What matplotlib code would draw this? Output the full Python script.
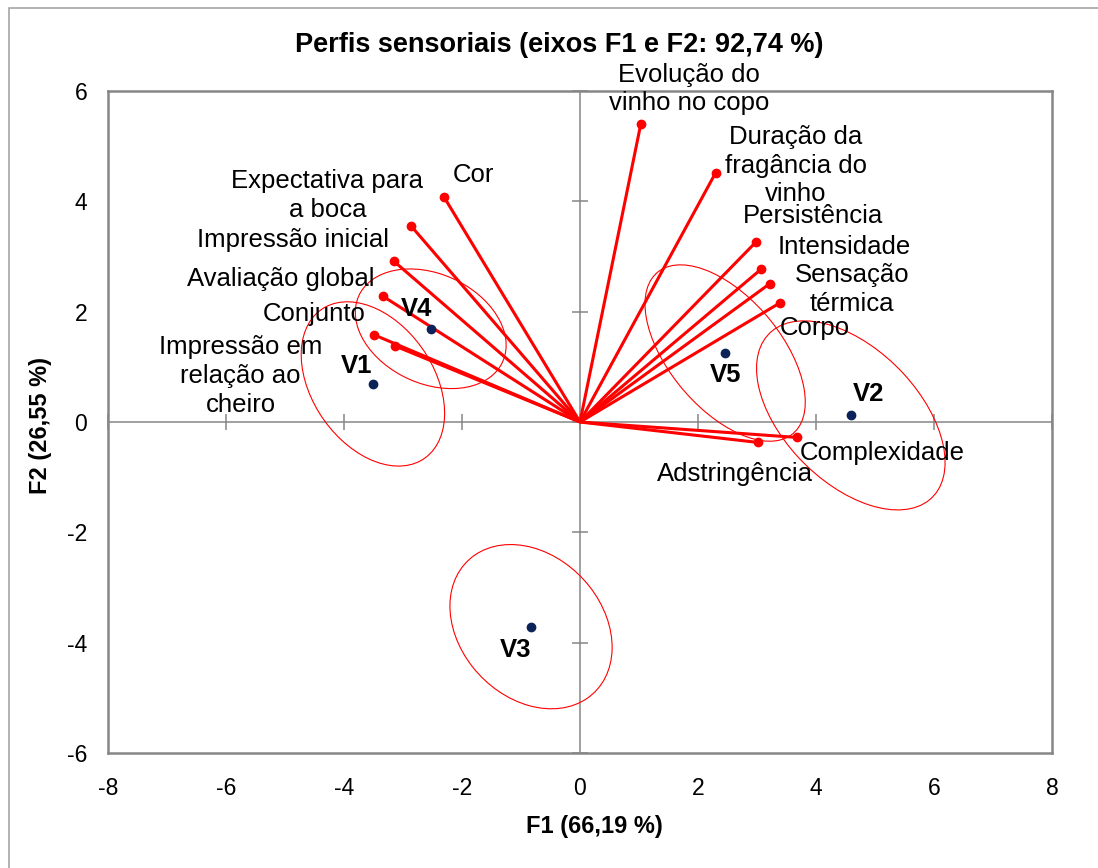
from matplotlib import pyplot as plt
import matplotlib.patches as patches
import numpy as np

# variables (red vectors)
VAR_NAMES = ['Cor', 'Expectativa para\na boca', 'Impressão inicial', 'Avaliação global',
             'Conjunto', 'Impressão em\nrelação ao\ncheiro',
             'Evolução do\nvinho no copo', 'Duração da\nfragância do\nvinho', 'Persistência',
             'Intensidade', 'Sensação\ntérmica', 'Corpo', 'Complexidade', 'Adstringência']
VAR_F1 = [-2.30, -2.86, -3.15, -3.34, -3.49, -3.14, 1.03, 2.30, 2.98, 3.07, 3.22, 3.39, 3.68, 3.01]
VAR_F2 = [4.07, 3.55, 2.91, 2.28, 1.58, 1.38, 5.40, 4.52, 3.26, 2.77, 2.51, 2.16, -0.28, -0.37]

# observations (wines)
OBS_NAMES = ['V1', 'V2', 'V3', 'V4', 'V5']
OBS_F1 = [-3.51, 4.59, -0.83, -2.53, 2.46]
OBS_F2 = [0.69, 0.12, -3.71, 1.69, 1.25]
# confidence ellipses: semi-axes and angle
ELL_A = [1.61, 2.03, 1.61, 1.36, 1.86]
ELL_B = [1.05, 1.17, 1.23, 0.98, 0.97]
ELL_ANGLE = [-59.9, -49.0, -53.8, -29.5, -53.2]

TICKS_X = [-8, -6, -4, -2, 0, 2, 4, 6, 8]
TICKS_Y = [-6, -4, -2, 0, 2, 4, 6]

# label offsets in pixels
var_offsets = [(29, 22), (-84, 31), (-101, 21), (-102, 17), (-60, 21), (-154, -30),
               (48, 35), (80, 7), (57, 26), (83, 22), (82, -6), (35, -25), (85, -16), (-23, -32)]
obs_offsets = [(-16, 18), (18, 21), (-15, -23), (-14, 20), (0, -22)]

plt.rcParams['font.family'] = ['Liberation Sans', 'DejaVu Sans']
plt.rcParams['axes.unicode_minus'] = False

W, H = 1098, 868
fig = plt.figure(figsize=(W / 100, H / 100), dpi=100)
ax = fig.add_axes([108 / W, 1 - 753 / H, (1052 - 108) / W, (753 - 91) / H])

grey = '#868686'
red = '#ff0000'
navy = '#0b2359'
lab_size = 18.5

# outer chart frame
fig.patches.append(patches.Rectangle((9 / W, -0.1), 1.2, 1 - 8 / H + 0.1, transform=fig.transFigure,
                                     fill=False, edgecolor='#a6a6a6', linewidth=1.2))

ax.set_xlim(-8, 8)
ax.set_ylim(-6, 6)
for s in ax.spines.values():
    s.set_color(grey)
    s.set_linewidth(1.8)

ax.axhline(0, color=grey, linewidth=1.1, zorder=1)
ax.axvline(0, color=grey, linewidth=1.1, zorder=1)
ax.plot(TICKS_X, [0] * len(TICKS_X), linestyle='none', marker='|', markersize=11,
        color=grey, markeredgewidth=1.1, zorder=1, clip_on=False)
ax.plot([0] * len(TICKS_Y), TICKS_Y, linestyle='none', marker='_', markersize=11,
        color=grey, markeredgewidth=1.1, zorder=1, clip_on=False)

ax.set_xticks(TICKS_X)
ax.set_yticks(TICKS_Y)
ax.tick_params(axis='x', length=0, pad=17, labelsize=16.5)
ax.tick_params(axis='y', length=0, pad=15, labelsize=16.5)

# ellipses
for i in range(len(OBS_NAMES)):
    e = patches.Ellipse((OBS_F1[i], OBS_F2[i]), 2 * ELL_A[i], 2 * ELL_B[i], angle=ELL_ANGLE[i],
                        fill=False, edgecolor=red, linewidth=0.8, zorder=2)
    ax.add_patch(e)

# vectors
for i in range(len(VAR_NAMES)):
    ax.plot([0, VAR_F1[i]], [0, VAR_F2[i]], color=red, linewidth=2.2, zorder=3,
            solid_capstyle='butt')
ax.plot(VAR_F1, VAR_F2, linestyle='none', marker='o', markersize=6, color=red, zorder=4)
for i, name in enumerate(VAR_NAMES):
    ax.annotate(name, (VAR_F1[i], VAR_F2[i]), xytext=var_offsets[i], textcoords='offset pixels',
                ha='center', va='center', fontsize=lab_size, linespacing=1.25, zorder=5)

ax.plot(OBS_F1, OBS_F2, linestyle='none', marker='o', markersize=6, color=navy, zorder=4)
for i, name in enumerate(OBS_NAMES):
    ax.annotate(name, (OBS_F1[i], OBS_F2[i]), xytext=obs_offsets[i], textcoords='offset pixels',
                ha='center', va='center', fontsize=lab_size, fontweight='bold', zorder=5)

fig.text(559.5 / W, 1 - 45 / H, 'Perfis sensoriais (eixos F1 e F2: 92,74 %)',
         ha='center', va='center', fontsize=19.5, fontweight='bold')
fig.text(594 / W, 1 - 827 / H, 'F1 (66,19 %)', ha='center', va='center',
         fontsize=17, fontweight='bold')
fig.text(41 / W, 1 - 425 / H, 'F2 (26,55 %)', ha='center', va='center', rotation=90,
         fontsize=17, fontweight='bold')

fig.savefig('out.png', dpi=100)
